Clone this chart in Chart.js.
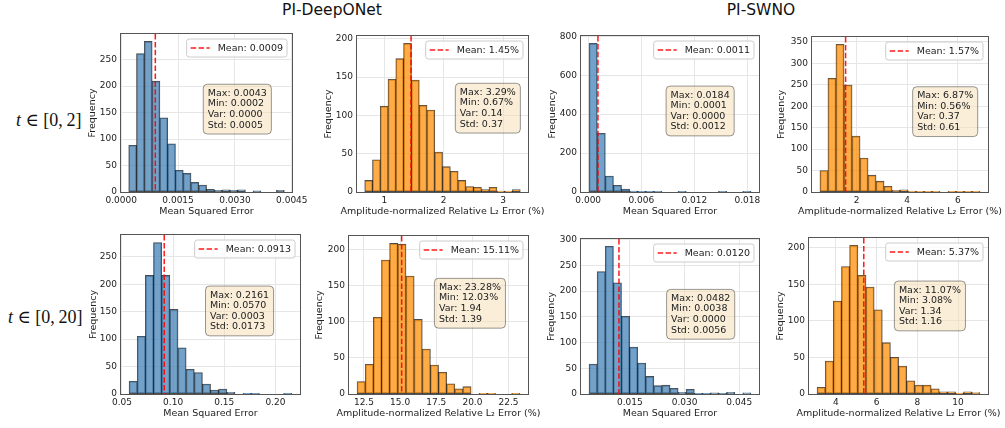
<!DOCTYPE html>
<html>
<head>
<meta charset="utf-8">
<script src="https://cdn.jsdelivr.net/npm/chart.js@4.4.1/dist/chart.umd.min.js"></script>
<style>
  body { margin: 0; background: #fff; }
  #fig { position: relative; width: 1005px; height: 428px; overflow: hidden; }
  #fig canvas { position: absolute; left: 0; top: 0; }
  .title { position: absolute; top: 1px; font-family: "DejaVu Sans"; font-size: 15.5px; color: #111; transform: translateX(-50%); white-space: nowrap; }
  .row { position: absolute; font-family: "Liberation Serif", "DejaVu Serif", serif; font-size: 18px; color: #111; white-space: nowrap; transform: translateY(-50%); }
</style>
</head>
<body>
<div id="fig">
  <div class="title" style="left:332px">PI-DeepONet</div>
  <div class="title" style="left:761px">PI-SWNO</div>
  <div class="row" style="left:16px;top:120px"><i>t</i> ∈ [0,&#8201;2]</div>
  <div class="row" style="left:8px;top:317px"><i>t</i> ∈ [0,&#8201;20]</div>
</div>
<script>
// histogram counts, 20 equal bins between each run's min and max
var deepMseShort = [88, 261, 284, 209, 140, 91, 41, 35, 18, 13, 5, 3, 4, 3, 4, 0, 2, 0, 0, 3];
var deepRelShort = [15, 42, 112, 147, 174, 194, 146, 113, 107, 52, 33, 27, 15, 7, 6, 3, 6, 1, 1, 3];
var swnoMseShort = [763, 301, 82, 34, 15, 4, 2, 1, 1, 0, 0, 1, 0, 0, 0, 0, 1, 0, 0, 1];
var swnoRelShort = [50, 265, 344, 249, 130, 79, 39, 25, 13, 4, 5, 2, 1, 1, 1, 0, 1, 1, 1, 1];
var deepMseLong = [23, 105, 216, 276, 216, 154, 84, 45, 39, 18, 7, 9, 3, 0, 1, 1, 0, 0, 0, 1];
var deepRelLong = [17, 41, 106, 185, 208, 207, 163, 103, 62, 40, 30, 14, 7, 10, 0, 1, 1, 0, 0, 1];
var swnoMseLong = [58, 238, 287, 216, 151, 91, 60, 34, 16, 17, 11, 3, 9, 1, 1, 2, 1, 3, 0, 2];
var swnoRelLong = [9, 45, 127, 174, 203, 162, 146, 115, 70, 50, 38, 18, 12, 12, 7, 3, 3, 1, 3, 2];

// summary stats: [max, min, var, std, mean]
var deepMseShortStats = [0.0043, 0.0002, 0.0000, 0.0005, 0.0009];
var deepRelShortStats = [3.29, 0.67, 0.14, 0.37, 1.45];
var swnoMseShortStats = [0.0184, 0.0001, 0.0000, 0.0012, 0.0011];
var swnoRelShortStats = [6.87, 0.56, 0.37, 0.61, 1.57];
var deepMseLongStats = [0.2161, 0.0570, 0.0003, 0.0173, 0.0913];
var deepRelLongStats = [23.28, 12.03, 1.94, 1.39, 15.11];
var swnoMseLongStats = [0.0482, 0.0038, 0.0000, 0.0056, 0.0120];
var swnoRelLongStats = [11.07, 3.08, 1.34, 1.16, 5.37];

// x tick values
var deepMseShortTicks = [0, 0.0015, 0.0030, 0.0045];
var deepRelShortTicks = [1, 2, 3];
var swnoMseShortTicks = [0, 0.006, 0.012, 0.018];
var swnoRelShortTicks = [2, 4, 6];
var deepMseLongTicks = [0.05, 0.10, 0.15, 0.20];
var deepRelLongTicks = [12.5, 15.0, 17.5, 20.0, 22.5];
var swnoMseLongTicks = [0.015, 0.030, 0.045];
var swnoRelLongTicks = [4, 6, 8, 10];

var mseLabel = "Mean Squared Error";
var relLabel = "Amplitude-normalized Relative L\u2082 Error (%)";

// frame = [left, top, right, bottom] on the page, box = stats box anchor (axes fraction)
var panels = [
  { counts: deepMseShort, stats: deepMseShortStats, xTicks: deepMseShortTicks, dec: 4, yStep: 50, kind: "mse", frame: [121, 34, 292, 192], yGap: 28, box: [0.481, 0.318] },
  { counts: deepRelShort, stats: deepRelShortStats, xTicks: deepRelShortTicks, dec: 0, yStep: 50, kind: "rel", frame: [357, 36, 528, 192], yGap: 28.7, box: [0.575, 0.303] },
  { counts: swnoMseShort, stats: swnoMseShortStats, xTicks: swnoMseShortTicks, dec: 3, yStep: 200, kind: "mse", frame: [581, 36, 759, 192], yGap: 28.3, box: [0.478, 0.321] },
  { counts: swnoRelShort, stats: swnoRelShortStats, xTicks: swnoRelShortTicks, dec: 0, yStep: 50, kind: "rel", frame: [812, 37, 988, 192], yGap: 30.3, box: [0.572, 0.321] },
  { counts: deepMseLong, stats: deepMseLongStats, xTicks: deepMseLongTicks, dec: 2, yStep: 50, kind: "mse", frame: [121, 235, 300, 394], yGap: 27.7, box: [0.472, 0.321] },
  { counts: deepRelLong, stats: deepRelLongStats, xTicks: deepRelLongTicks, dec: 1, yStep: 50, kind: "rel", frame: [349, 236, 528, 394], yGap: 29, box: [0.477, 0.268] },
  { counts: swnoMseLong, stats: swnoMseLongStats, xTicks: swnoMseLongTicks, dec: 3, yStep: 50, kind: "mse", frame: [581, 239, 759, 394], yGap: 29.3, box: [0.481, 0.325] },
  { counts: swnoRelLong, stats: swnoRelLongStats, xTicks: swnoRelLongTicks, dec: 0, yStep: 50, kind: "rel", frame: [809, 238, 988, 394], yGap: 28.3, box: [0.477, 0.276] }
];

var textColor = "#222";
var labelFont = '9.5px "DejaVu Sans"';

// mean line, frame, x title, legend and stats box
var histExtras = {
  id: "histExtras",
  afterDraw: function (chart, args, opts) {
    var ctx = chart.ctx, a = chart.chartArea, x = chart.scales.x;
    var w = a.right - a.left, h = a.bottom - a.top;
    ctx.save();

    var mx = x.getPixelForValue(opts.mean);
    ctx.strokeStyle = "rgba(255,0,0,0.9)";
    ctx.lineWidth = 1.5;
    ctx.setLineDash([5.5, 2.4]);
    ctx.beginPath();
    ctx.moveTo(mx, a.top);
    ctx.lineTo(mx, a.bottom);
    ctx.stroke();
    ctx.setLineDash([]);

    ctx.strokeStyle = "#555";
    ctx.lineWidth = 1;
    ctx.strokeRect(Math.round(a.left) - 0.5, Math.round(a.top) - 0.5, Math.round(w) + 1, Math.round(h) + 1);

    ctx.font = labelFont;
    ctx.textBaseline = "middle";

    // x axis title, allowed to run wider than the frame
    ctx.textAlign = "center";
    ctx.fillStyle = textColor;
    ctx.fillText(opts.xTitle, (a.left + a.right) / 2, a.bottom + 20);
    ctx.textAlign = "left";

    // legend, upper right
    var lw = ctx.measureText(opts.legend).width;
    var bw = lw + 35, bh = 18;
    var bx = a.right - 5 - bw, by = a.top + 5;
    ctx.beginPath();
    ctx.roundRect(bx, by, bw, bh, 2.5);
    ctx.fillStyle = "rgba(255,255,255,0.8)";
    ctx.fill();
    ctx.strokeStyle = "#cccccc";
    ctx.stroke();
    ctx.strokeStyle = "rgba(255,0,0,0.9)";
    ctx.lineWidth = 1.5;
    ctx.setLineDash([5.5, 2.4]);
    ctx.beginPath();
    ctx.moveTo(bx + 4, by + bh / 2);
    ctx.lineTo(bx + 23, by + bh / 2);
    ctx.stroke();
    ctx.setLineDash([]);
    ctx.fillStyle = textColor;
    ctx.fillText(opts.legend, bx + 31, by + bh / 2 + 0.5);

    // stats box
    var lines = opts.lines;
    var tw = 0;
    lines.forEach(function (s) { tw = Math.max(tw, ctx.measureText(s).width); });
    var sx = a.left + opts.box[0] * w, sy = a.top + opts.box[1] * h;
    var lh = 10.6;
    var sw = tw + 9, sh = lines.length * lh + 7.4;
    ctx.beginPath();
    ctx.roundRect(sx, sy, sw, sh, 4);
    ctx.fillStyle = "rgba(245,222,179,0.5)";
    ctx.fill();
    ctx.strokeStyle = "rgba(0,0,0,0.4)";
    ctx.lineWidth = 1;
    ctx.stroke();
    ctx.fillStyle = textColor;
    lines.forEach(function (s, i) {
      ctx.fillText(s, sx + 4.5, sy + 3.7 + lh * (i + 0.5));
    });
    ctx.restore();
  }
};

Chart.defaults.font.family = "DejaVu Sans";
Chart.defaults.font.size = 9;
Chart.defaults.color = textColor;

var fig = document.getElementById("fig");

panels.forEach(function (p) {
  var canvas = document.createElement("canvas");
  canvas.width = 1005;
  canvas.height = 428;
  fig.appendChild(canvas);

  var hi = p.stats[0], lo = p.stats[1];
  var binW = (hi - lo) / p.counts.length;
  var points = p.counts.map(function (c, k) { return { x: lo + (k + 0.5) * binW, y: c }; });
  var margin = 0.05 * (hi - lo);
  var yMax = 1.05 * Math.max.apply(null, p.counts);
  var isMse = p.kind === "mse";
  var unit = isMse ? "" : "%";
  var sd = isMse ? 4 : 2;
  var f = p.frame;
  var yW = p.yGap + 5.7, xH = 25.5;

  new Chart(canvas, {
    type: "bar",
    data: {
      datasets: [{
        data: points,
        backgroundColor: isMse ? "rgba(70,130,180,0.75)" : "rgba(255,140,0,0.72)",
        borderColor: "rgba(0,0,0,0.7)",
        borderWidth: 0.8,
        borderSkipped: false,
        inflateAmount: 0.4,
        barPercentage: 1,
        categoryPercentage: 1
      }]
    },
    options: {
      responsive: false,
      animation: false,
      events: [],
      layout: { padding: { left: f[0] - yW, top: f[1], right: 1005 - f[2], bottom: 428 - f[3] - xH } },
      plugins: {
        legend: { display: false },
        tooltip: { enabled: false },
        histExtras: {
          mean: p.stats[4],
          xTitle: isMse ? mseLabel : relLabel,
          legend: "Mean: " + p.stats[4].toFixed(sd) + unit,
          lines: [
            "Max: " + p.stats[0].toFixed(sd) + unit,
            "Min: " + p.stats[1].toFixed(sd) + unit,
            "Var: " + p.stats[2].toFixed(sd),
            "Std: " + p.stats[3].toFixed(sd)
          ],
          box: p.box
        }
      },
      scales: {
        x: {
          type: "linear",
          min: lo - margin,
          max: hi + margin,
          offset: false,
          bounds: "data",
          grid: { color: "#e6e6e6", drawTicks: false, offset: false },
          border: { display: false },
          ticks: {
            padding: 3, maxRotation: 0, autoSkip: false,
            callback: function (v) { return Number(v).toFixed(p.dec); }
          },
          afterBuildTicks: function (s) {
            s.ticks = p.xTicks.map(function (v) { return { value: v }; });
          },
          afterFit: function (s) {
            s.height = xH;
            s.paddingLeft = 0; s.paddingRight = 0;
          }
        },
        y: {
          min: 0,
          max: yMax,
          bounds: "data",
          grid: { color: "#e6e6e6", drawTicks: false },
          border: { display: false },
          ticks: { padding: 4, autoSkip: false },
          afterBuildTicks: function (s) {
            var t = [];
            for (var v = 0; v <= yMax; v += p.yStep) t.push({ value: v });
            s.ticks = t;
          },
          afterFit: function (s) {
            s.width = yW;
            s.paddingTop = 0; s.paddingBottom = 0;
          },
          title: { display: true, text: "Frequency", padding: 0, font: { size: 9.5 } }
        }
      }
    },
    plugins: [histExtras]
  });
});
</script>
</body>
</html>
